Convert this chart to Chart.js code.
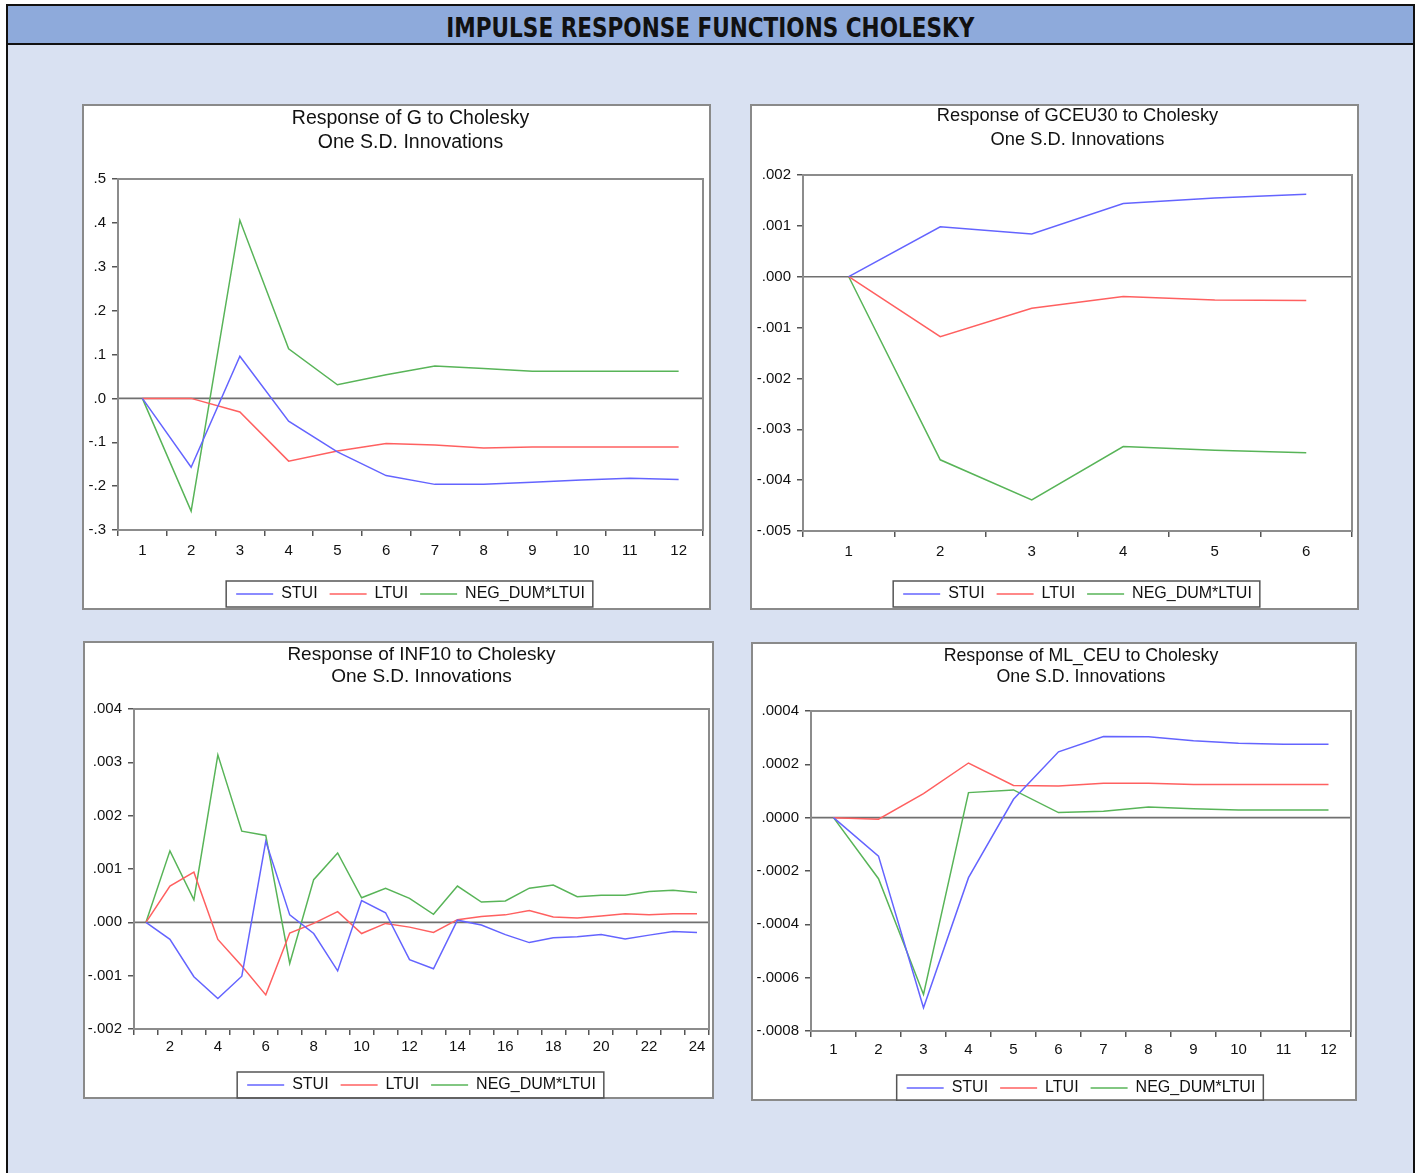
<!DOCTYPE html>
<html>
<head>
<meta charset="utf-8">
<script src="https://cdn.jsdelivr.net/npm/chart.js@4.4.1/dist/chart.umd.min.js"></script>
<style>
  body { margin: 0; background: #fff; width: 1421px; height: 1173px; overflow: hidden; position: relative; }
  #frame { position: absolute; left: 6px; top: 4px; width: 1405px; height: 1200px;
           border: 2px solid #111; background: #d9e1f2; }
  #header { height: 37px; background: #8eaadb; border-bottom: 2px solid #111;
            text-align: center; line-height: 44px; }
  #header span { display: inline-block; font-family: "Liberation Sans Narrow", "DejaVu Sans Condensed", sans-serif;
                 font-weight: bold; font-size: 26px; color: #111; transform-origin: center; }
  .panel { position: absolute; background: #fff; border: 2px solid #8a8a8a; box-sizing: border-box; }
  .panel canvas { position: absolute; left: -2px; top: -2px; }
</style>
</head>
<body>
<div id="frame"><div id="header"><span id="htxt">IMPULSE RESPONSE FUNCTIONS CHOLESKY</span></div></div>

<div class="panel" style="left:82px;top:104px;width:629px;height:506px"><canvas id="chartG" width="629" height="506"></canvas></div>
<div class="panel" style="left:750px;top:104px;width:609px;height:506px"><canvas id="chartGceu" width="609" height="506"></canvas></div>
<div class="panel" style="left:83px;top:641px;width:631px;height:458px"><canvas id="chartInf" width="631" height="458"></canvas></div>
<div class="panel" style="left:751px;top:642px;width:606px;height:459px"><canvas id="chartMl" width="606" height="459"></canvas></div>

<script>
// series shared by all four panels
const seriesNames = ['STUI', 'LTUI', 'NEG_DUM*LTUI'];
const seriesColors = ['#6464ff', '#ff6060', '#58b458'];

// Response of G
const periodsG = ['1', '2', '3', '4', '5', '6', '7', '8', '9', '10', '11', '12'];
const gStui = [0, -0.157, 0.096, -0.052, -0.122, -0.176, -0.196, -0.196, -0.191, -0.186, -0.182, -0.185];
const gLtui = [0, 0, -0.031, -0.143, -0.120, -0.103, -0.106, -0.113, -0.111, -0.111, -0.111, -0.111];
const gNeg = [0, -0.257, 0.406, 0.113, 0.031, 0.054, 0.074, 0.068, 0.062, 0.062, 0.062, 0.062];

// Response of GCEU30
const periodsGceu = ['1', '2', '3', '4', '5', '6'];
const gceuStui = [0, 0.00098, 0.00084, 0.00144, 0.00155, 0.00162];
const gceuLtui = [0, -0.00118, -0.00062, -0.00039, -0.00046, -0.00047];
const gceuNeg = [0, -0.00360, -0.00439, -0.00334, -0.00341, -0.00346];

// Response of INF10
const periodsInf = ['1', '2', '3', '4', '5', '6', '7', '8', '9', '10', '11', '12',
  '13', '14', '15', '16', '17', '18', '19', '20', '21', '22', '23', '24'];
const infStui = [0, -0.00032, -0.00102, -0.00143, -0.00101, 0.00152, 0.00014, -0.00021, -0.00091, 0.00041,
  0.00018, -0.00070, -0.00087, 0.00004, -0.00005, -0.00023, -0.00038, -0.00029, -0.00027, -0.00023,
  -0.00031, -0.00024, -0.00017, -0.00019];
const infLtui = [0, 0.00068, 0.00094, -0.00032, -0.00082, -0.00136, -0.00020, -0.00002, 0.00020, -0.00021,
  -0.00002, -0.00009, -0.00019, 0.00005, 0.00011, 0.00014, 0.00022, 0.00010, 0.00008, 0.00012,
  0.00016, 0.00014, 0.00016, 0.00016];
const infNeg = [0, 0.00134, 0.00042, 0.00314, 0.00171, 0.00163, -0.00077, 0.00080, 0.00130, 0.00046,
  0.00064, 0.00045, 0.00015, 0.00068, 0.00038, 0.00040, 0.00064, 0.00070, 0.00048, 0.00051,
  0.00051, 0.00058, 0.00060, 0.00056];

// Response of ML_CEU
const periodsMl = ['1', '2', '3', '4', '5', '6', '7', '8', '9', '10', '11', '12'];
const mlStui = [0, -0.000144, -0.000713, -0.000225, 0.000069, 0.000247, 0.000304, 0.000303, 0.000288, 0.000279, 0.000275, 0.000275];
const mlLtui = [0, -0.000006, 0.000090, 0.000205, 0.000121, 0.000119, 0.000129, 0.000129, 0.000124, 0.000124, 0.000124, 0.000124];
const mlNeg = [0, -0.000229, -0.000663, 0.000094, 0.000104, 0.000019, 0.000024, 0.000040, 0.000033, 0.000029, 0.000029, 0.000029];

const FONT = 'Liberation Sans, Arial, sans-serif';

// EViews style tick labels: .5, -.1, .000
function evFormat(decimals) {
  return v => {
    const s = Math.abs(v).toFixed(decimals).replace(/^0/, '');
    return (v < -1e-12 ? '-' : '') + s;
  };
}

// grey frame round the plot, zero line, and the box round the legend
const evPlugin = {
  id: 'evFrame',
  beforeDatasetsDraw(chart) {
    const { ctx, chartArea: a } = chart;
    const y0 = chart.scales.y.getPixelForValue(0);
    ctx.save();
    ctx.strokeStyle = '#707070';
    ctx.lineWidth = 1.6;
    ctx.beginPath();
    ctx.moveTo(a.left, y0);
    ctx.lineTo(a.right, y0);
    ctx.stroke();
    ctx.strokeStyle = '#8c8c8c';
    ctx.lineWidth = 2;
    ctx.strokeRect(a.left, a.top, a.right - a.left, a.bottom - a.top);
    ctx.restore();
  },
  afterDraw(chart) {
    const hb = chart.legend.legendHitBoxes;
    if (!hb || !hb.length) return;
    const ctx = chart.ctx;
    const l = Math.min(...hb.map(h => h.left)) - 10;
    const r = Math.max(...hb.map(h => h.left + h.width)) + 8;
    const t = hb[0].top - 5;
    const b = hb[0].top + hb[0].height + 5;
    ctx.save();
    ctx.strokeStyle = '#555';
    ctx.lineWidth = 1.5;
    ctx.strokeRect(l, t, r - l, b - t);
    ctx.restore();
  }
};

function makeChart(id, labels, values, yRange, decimals, lay, everyOther) {
  const datasets = values.map((v, i) => ({
    label: seriesNames[i],
    data: v,
    borderColor: seriesColors[i],
    backgroundColor: seriesColors[i],
    borderWidth: 1.5,
    pointRadius: 0,
    tension: 0,
    fill: false
  }));
  return new Chart(document.getElementById(id), {
    type: 'line',
    data: { labels: labels, datasets: datasets },
    plugins: [evPlugin],
    options: {
      responsive: false,
      animation: false,
      layout: { padding: { left: 0, right: lay.right, top: 0, bottom: lay.bottom } },
      plugins: {
        title: {
          display: true,
          fullSize: false,
          text: lay.title,
          color: '#111',
          font: { family: FONT, size: lay.titleSize, weight: 'normal', lineHeight: lay.titleLH / lay.titleSize },
          padding: { top: lay.titleTop, bottom: lay.plotTop - lay.titleTop - 2 * lay.titleLH }
        },
        legend: {
          position: 'bottom',
          fullSize: false,
          labels: {
            usePointStyle: true,
            pointStyle: 'line',
            pointStyleWidth: 37,
            padding: 12,
            color: '#111',
            font: { family: FONT, size: 16 }
          }
        },
        tooltip: { enabled: false }
      },
      scales: {
        x: {
          offset: true,
          afterFit: s => { s.height = lay.xH; },
          grid: { offset: true, drawOnChartArea: false, drawTicks: true, tickLength: 6, color: '#555', lineWidth: 1.5 },
          border: { display: false },
          ticks: {
            autoSkip: false, maxRotation: 0, padding: lay.xPad, color: '#111',
            font: { family: FONT, size: 15 },
            callback: (v, i) => (everyOther && i % 2 === 0) ? '' : labels[i]
          }
        },
        y: {
          min: yRange[0], max: yRange[1],
          afterFit: s => { s.width = lay.plotLeft; },
          grid: { drawOnChartArea: false, drawTicks: true, tickLength: 6, color: '#555', lineWidth: 1.5 },
          border: { display: false },
          ticks: {
            stepSize: yRange[2], padding: 6, color: '#111',
            font: { family: FONT, size: 15 },
            callback: evFormat(decimals)
          }
        }
      }
    }
  });
}

makeChart('chartG', periodsG, [gStui, gLtui, gNeg], [-0.3, 0.5, 0.1], 1,
  { title: ['Response of G to Cholesky', 'One S.D. Innovations'], titleSize: 19.5, titleTop: 3, titleLH: 24,
    plotTop: 75, plotLeft: 36, right: 8, xH: 44, xPad: 6, bottom: -2 });
makeChart('chartGceu', periodsGceu, [gceuStui, gceuLtui, gceuNeg], [-0.005, 0.002, 0.001], 3,
  { title: ['Response of GCEU30 to Cholesky', 'One S.D. Innovations'], titleSize: 18.3, titleTop: 0, titleLH: 24,
    plotTop: 71, plotLeft: 53, right: 7, xH: 43, xPad: 6, bottom: -2 });
makeChart('chartInf', periodsInf, [infStui, infLtui, infNeg], [-0.002, 0.004, 0.001], 3,
  { title: ['Response of INF10 to Cholesky', 'One S.D. Innovations'], titleSize: 19, titleTop: 3, titleLH: 22,
    plotTop: 68, plotLeft: 51, right: 5, xH: 36, xPad: 3, bottom: -4 }, true);
makeChart('chartMl', periodsMl, [mlStui, mlLtui, mlNeg], [-0.0008, 0.0004, 0.0002], 4,
  { title: ['Response of ML_CEU to Cholesky', 'One S.D. Innovations'], titleSize: 17.8, titleTop: 4, titleLH: 21,
    plotTop: 69, plotLeft: 60, right: 6, xH: 37, xPad: 4, bottom: -5 });

// squeeze the banner title to the width it has in the sheet
const h = document.getElementById('htxt');
h.style.transform = 'scaleX(' + (528 / h.getBoundingClientRect().width) + ')';
</script>
</body>
</html>
